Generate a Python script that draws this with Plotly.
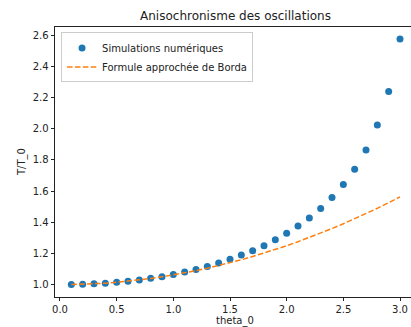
import plotly.graph_objects as go

theta = [0.1, 0.2, 0.3, 0.4, 0.5, 0.6, 0.7, 0.8, 0.9, 1.0,
         1.1, 1.2, 1.3, 1.4, 1.5, 1.6, 1.7, 1.8, 1.9, 2.0,
         2.1, 2.2, 2.3, 2.4, 2.5, 2.6, 2.7, 2.8, 2.9, 3.0]
sim_ratio = [1.001, 1.003, 1.006, 1.010, 1.016, 1.023, 1.031, 1.041, 1.052, 1.066,
             1.081, 1.098, 1.117, 1.139, 1.163, 1.190, 1.218, 1.250, 1.289, 1.330,
             1.377, 1.428, 1.488, 1.559, 1.643, 1.741, 1.863, 2.024, 2.238, 2.575]
borda_ratio = [1.001, 1.003, 1.006, 1.010, 1.016, 1.023, 1.031, 1.040, 1.051, 1.063,
               1.076, 1.090, 1.106, 1.123, 1.141, 1.160, 1.181, 1.203, 1.226, 1.250,
               1.276, 1.303, 1.331, 1.360, 1.391, 1.423, 1.456, 1.490, 1.526, 1.563]
x_ticks = [0.0, 0.5, 1.0, 1.5, 2.0, 2.5, 3.0]
y_ticks = [1.0, 1.2, 1.4, 1.6, 1.8, 2.0, 2.2, 2.4, 2.6]

FONT = "DejaVu Sans"
W, H = 411, 327
L, T, B = 55, 27, 30

fig = go.Figure()
fig.add_trace(go.Scatter(
    x=theta, y=sim_ratio, mode="markers", name="Simulations numériques",
    marker=dict(color="#1f77b4", size=7, line=dict(width=0)),
))
fig.add_trace(go.Scatter(
    x=theta, y=borda_ratio, mode="lines", name="Formule approchée de Borda",
    line=dict(color="#ff7f0e", width=1.5, dash="5.5px,2.4px"),
))

fig.update_layout(
    width=W, height=H,
    margin=dict(l=L, r=0, t=T, b=B),
    paper_bgcolor="white", plot_bgcolor="white",
    font=dict(family=FONT, size=10, color="#222"),
    title=dict(text="Anisochronisme des oscillations", font=dict(size=12, color="#222"),
               x=(235.5 - L) / (W - L), xref="paper", xanchor="center",
               y=1 - 16 / H, yref="container", yanchor="middle"),
    showlegend=True,
    legend=dict(x=0.017, y=0.98, xanchor="left", yanchor="top",
                bgcolor="rgba(255,255,255,0.8)", bordercolor="#cccccc", borderwidth=1,
                font=dict(size=10, color="#222"), tracegroupgap=0, itemwidth=30),
    xaxis=dict(range=[-0.044, 3.097], tickvals=x_ticks,
               ticktext=[f"{v:.1f}" for v in x_ticks],
               showgrid=False, zeroline=False, showline=True, linecolor="#222", linewidth=0.8,
               mirror=True, ticks="outside", ticklen=3.5, tickwidth=0.8, tickcolor="#222"),
    yaxis=dict(range=[0.9215, 2.652], tickvals=y_ticks,
               ticktext=[f"{v:.1f}" for v in y_ticks],
               showgrid=False, zeroline=False, showline=True, linecolor="#222", linewidth=0.8,
               mirror=False, ticks="outside", ticklen=3.5, tickwidth=0.8, tickcolor="#222"),
    annotations=[
        dict(text="theta_0", xref="paper", yref="paper", x=(235 - L) / (W - L),
             y=-(320.5 - (H - B)) / (H - T - B), xanchor="center", yanchor="middle",
             showarrow=False, font=dict(size=10, color="#222")),
        dict(text="T/T_0", xref="paper", yref="paper", x=-(L - 22) / (W - L),
             y=0.5, xanchor="center", yanchor="middle", textangle=-90,
             showarrow=False, font=dict(size=10, color="#222")),
    ],
)

fig.write_html("out.html",
               config={"displayModeBar": False},
               post_script="document.body.style.margin='0';document.body.style.overflow='hidden';")
